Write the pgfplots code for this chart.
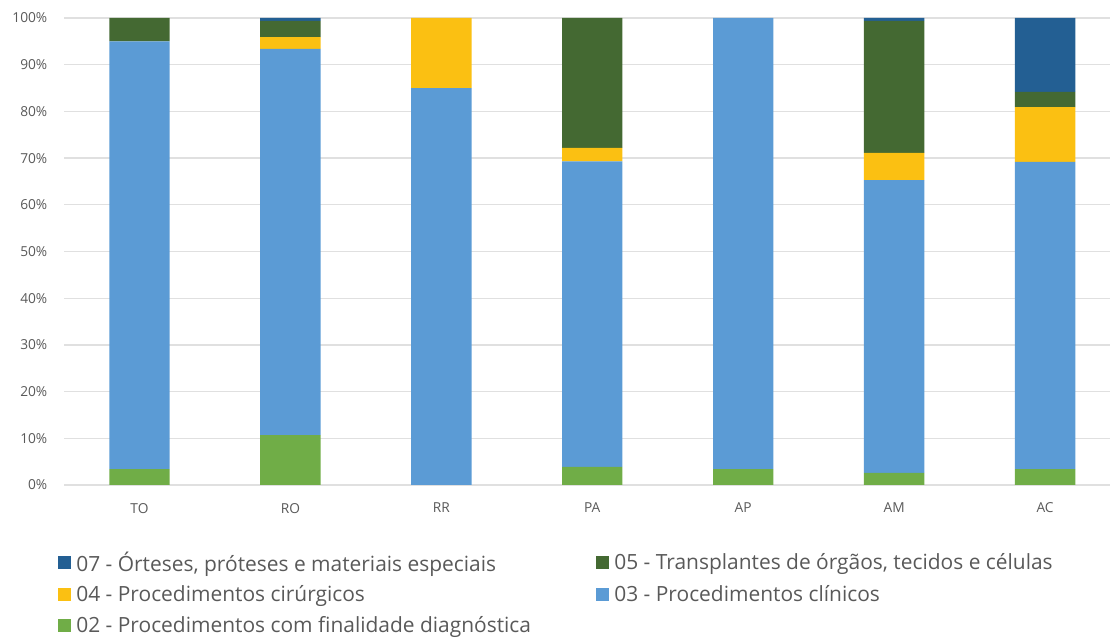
\documentclass[border=0pt]{standalone}
\usepackage{pgfplots}
\pgfplotsset{compat=1.18}
\usepackage{fontspec}
\setmainfont{Open Sans}
\definecolor{cA}{HTML}{70AD47}
\definecolor{cB}{HTML}{5B9BD5}
\definecolor{cC}{HTML}{FBC012}
\definecolor{cD}{HTML}{446932}
\definecolor{cE}{HTML}{235F93}
\definecolor{tgrey}{HTML}{595959}
\definecolor{gridc}{HTML}{E0E0E0}
\begin{document}
\begin{tikzpicture}
\begin{axis}[
  name=ax,
  at={(0,0)}, anchor=south west,
  scale only axis,
  width=784.5pt, height=350.25pt,
  ybar stacked,
  bar width=0.4,
  xmin=-0.5, xmax=6.43,
  ymin=0, ymax=100,
  xtick={0,1,2,3,4,5,6},
  xticklabels={TO,RO,RR,PA,AP,AM,AC},
  ytick={0,10,20,30,40,50,60,70,80,90,100},
  yticklabels={0\%,10\%,20\%,30\%,40\%,50\%,60\%,70\%,80\%,90\%,100\%},
  axis line style={draw=none},
  major tick length=0pt,
  ymajorgrids,
  grid style={draw=gridc, line width=1pt},
  tick label style={font=\fontsize{10.3pt}{12pt}\selectfont, text=tgrey},
  xticklabel style={yshift=-10pt},
  yticklabel style={xshift=-9pt},
  legend columns=2,
  reverse legend,
  legend style={
    draw=none, fill=none,
    at={(-0.0095,-0.1264)}, anchor=north west,
    font=\fontsize{15.7pt}{18pt}\selectfont,
    text=tgrey,
    cells={anchor=west},
    nodes={minimum height=23.6pt},
    row sep=0pt,
  },
  legend image code/.code={\fill[#1] (0pt,-4.9pt) rectangle (9.75pt,4.9pt); \path (11.5pt,0pt);},
]
\addplot+[fill=cA, draw=none] coordinates {(0,3.4) (1,10.7) (2,0) (3,3.9) (4,3.4) (5,2.6) (6,3.4)};
\addlegendentry{\makebox[388pt][l]{02 - Procedimentos com finalidade diagnóstica}}
\addplot+[fill=cB, draw=none] coordinates {(0,91.6) (1,82.7) (2,85.0) (3,65.4) (4,96.6) (5,62.7) (6,65.8)};
\addlegendentry{03 - Procedimentos clínicos}
\addplot+[fill=cC, draw=none] coordinates {(0,0) (1,2.5) (2,15.0) (3,2.9) (4,0) (5,5.8) (6,11.7)};
\addlegendentry{\makebox[388pt][l]{04 - Procedimentos cirúrgicos}}
\addplot+[fill=cD, draw=none] coordinates {(0,5.0) (1,3.5) (2,0) (3,27.8) (4,0) (5,28.3) (6,3.3)};
\addlegendentry{05 - Transplantes de órgãos, tecidos e células}
\addplot+[fill=cE, draw=none] coordinates {(0,0) (1,0.6) (2,0) (3,0) (4,0) (5,0.6) (6,15.8)};
\addlegendentry{\makebox[388pt][l]{07 - Órteses, próteses e materiais especiais}}
\end{axis}
\pgfresetboundingbox
\path ([xshift=-48pt,yshift=-114.75pt]ax.south west) rectangle ([yshift=13.5pt]ax.north east);
\end{tikzpicture}
\end{document}
